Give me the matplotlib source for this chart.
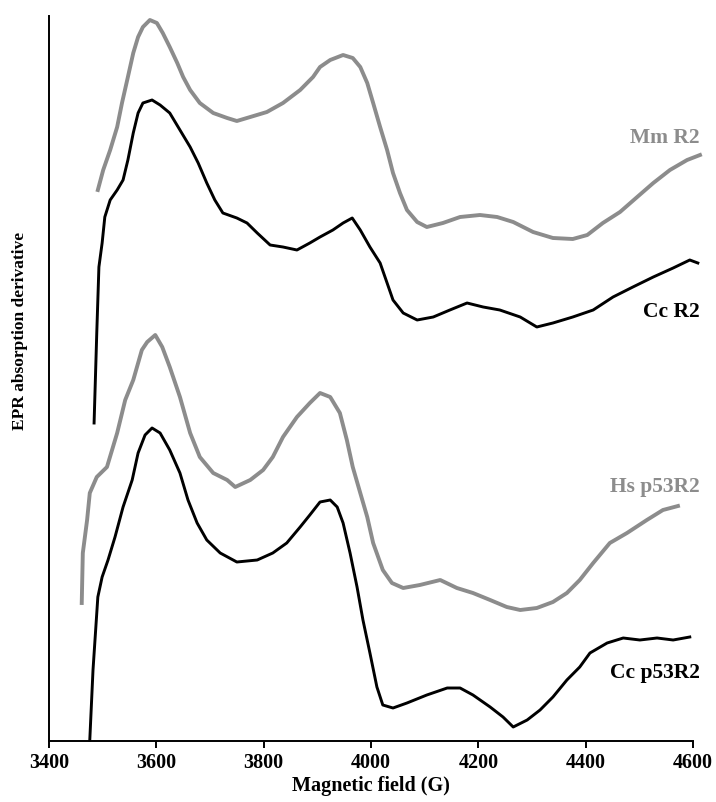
import numpy as np
import matplotlib.pyplot as plt

# magnetic field (G) and signal (arbitrary units)
mm_field = [3491, 3501, 3514, 3527, 3536, 3547, 3557, 3566, 3575, 3588, 3601, 3612,
            3625, 3639, 3650, 3663, 3681, 3706, 3732, 3750, 3775, 3806, 3836, 3868,
            3892, 3905, 3924, 3948, 3966, 3980, 3993, 4004, 4017, 4030, 4041, 4054,
            4067, 4086, 4104, 4134, 4166, 4203, 4235, 4265, 4302, 4339, 4376, 4403,
            4432, 4464, 4496, 4526, 4557, 4589, 4613]
mm_r2 = [551, 571, 591, 614, 638, 664, 688, 704, 714, 721, 718, 708,
         694, 678, 664, 651, 638, 628, 623, 620, 624, 629, 638, 651,
         664, 674, 681, 686, 683, 674, 658, 638, 614, 591, 568, 548,
         531, 519, 514, 518, 524, 526, 524, 519, 509, 503, 502, 506,
         518, 529, 544, 558, 571, 581, 586]

ccr2_field = [3484, 3489, 3493, 3499, 3504, 3514, 3527, 3538, 3547, 3557, 3566, 3575,
              3592, 3607, 3625, 3644, 3663, 3678, 3694, 3709, 3724, 3750, 3769, 3788,
              3812, 3836, 3862, 3886, 3905, 3929, 3948, 3965, 3980, 3998, 4017, 4030,
              4041, 4060, 4086, 4116, 4147, 4179, 4209, 4240, 4278, 4309, 4339, 4376,
              4414, 4451, 4488, 4526, 4563, 4594, 4609]
cc_r2 = [318, 408, 474, 498, 524, 541, 551, 561, 581, 608, 628, 638,
         641, 636, 628, 611, 594, 578, 558, 541, 528, 523, 518, 508,
         496, 494, 491, 498, 504, 511, 518, 523, 511, 494, 478, 458,
         441, 428, 421, 424, 431, 438, 434, 431, 424, 414, 418, 424,
         431, 444, 454, 464, 473, 481, 478]

hs_field = [3461, 3463, 3471, 3476, 3489, 3508, 3527, 3542, 3557, 3573, 3583, 3598,
            3611, 3625, 3644, 3663, 3681, 3706, 3732, 3747, 3775, 3799, 3817, 3836,
            3862, 3886, 3905, 3924, 3942, 3955, 3966, 3980, 3993, 4004, 4022, 4039,
            4060, 4091, 4129, 4160, 4190, 4222, 4253, 4278, 4309, 4339, 4365, 4389,
            4414, 4445, 4477, 4514, 4544, 4572]
hs_p53r2 = [138, 188, 221, 248, 264, 274, 308, 341, 361, 391, 399, 406,
            394, 374, 344, 308, 284, 268, 261, 254, 261, 271, 284, 304,
            324, 338, 348, 344, 328, 301, 274, 248, 224, 198, 171, 158,
            153, 156, 161, 153, 148, 141, 134, 131, 133, 139, 148, 161,
            178, 198, 208, 221, 231, 235]

ccp_field = [3476, 3482, 3491, 3499, 3510, 3523, 3538, 3555, 3566, 3579, 3592, 3607,
             3625, 3644, 3659, 3676, 3694, 3719, 3750, 3788, 3817, 3843, 3868, 3886,
             3905, 3924, 3937, 3948, 3961, 3974, 3985, 3998, 4011, 4022, 4041, 4067,
             4104, 4142, 4166, 4190, 4222, 4246, 4265, 4291, 4315, 4339, 4365, 4389,
             4408, 4440, 4470, 4501, 4533, 4563, 4594]
cc_p53r2 = [1, 71, 144, 164, 181, 204, 234, 261, 288, 306, 313, 308,
            291, 268, 241, 218, 201, 188, 179, 181, 188, 198, 214, 226,
            239, 241, 234, 218, 188, 154, 121, 88, 54, 36, 33, 38,
            46, 53, 53, 46, 34, 24, 14, 21, 31, 44, 61, 74,
            88, 98, 103, 101, 103, 101, 104]

labels = ['Mm R2', 'Cc R2', 'Hs p53R2', 'Cc p53R2']
label_y = [603, 429, 254, 68]

gray = '#8c8c8c'
plt.rcParams['font.family'] = ['Liberation Serif', 'DejaVu Serif']
plt.rcParams['font.weight'] = 'bold'

fig = plt.figure(figsize=(7.16, 8.02), dpi=100)
ax = fig.add_axes([49/716, 61/802, 644/716, 725/802])

series = [(mm_field, mm_r2, gray, 2.8),
          (ccr2_field, cc_r2, 'black', 2.1),
          (hs_field, hs_p53r2, gray, 2.8),
          (ccp_field, cc_p53r2, 'black', 2.1)]
for (x, y, c, lw), lab, ly in zip(series, labels, label_y):
    ax.plot(x, y, color=c, lw=lw, clip_on=False, solid_joinstyle='round')
    ax.text(4612, ly, lab, color=c, fontsize=15.5, fontweight='bold',
            ha='right', va='center')

ax.set_xlim(3400, 4600)
ax.set_ylim(0, 725)
ax.set_xticks(np.arange(3400, 4601, 200))
ax.set_yticks([])
for s in ['top', 'right']:
    ax.spines[s].set_visible(False)
for s in ['left', 'bottom']:
    ax.spines[s].set_linewidth(1.4)
ax.tick_params(axis='x', direction='out', length=5, width=1.4, labelsize=14.5, pad=4)
ax.set_xlabel('Magnetic field (G)', fontsize=14.5, fontweight='bold', labelpad=2)
ax.set_ylabel('EPR absorption derivative', fontsize=12.5, fontweight='bold')
ax.yaxis.set_label_coords(-21/644, (741-331)/725)

fig.savefig('out.png', dpi=100)
